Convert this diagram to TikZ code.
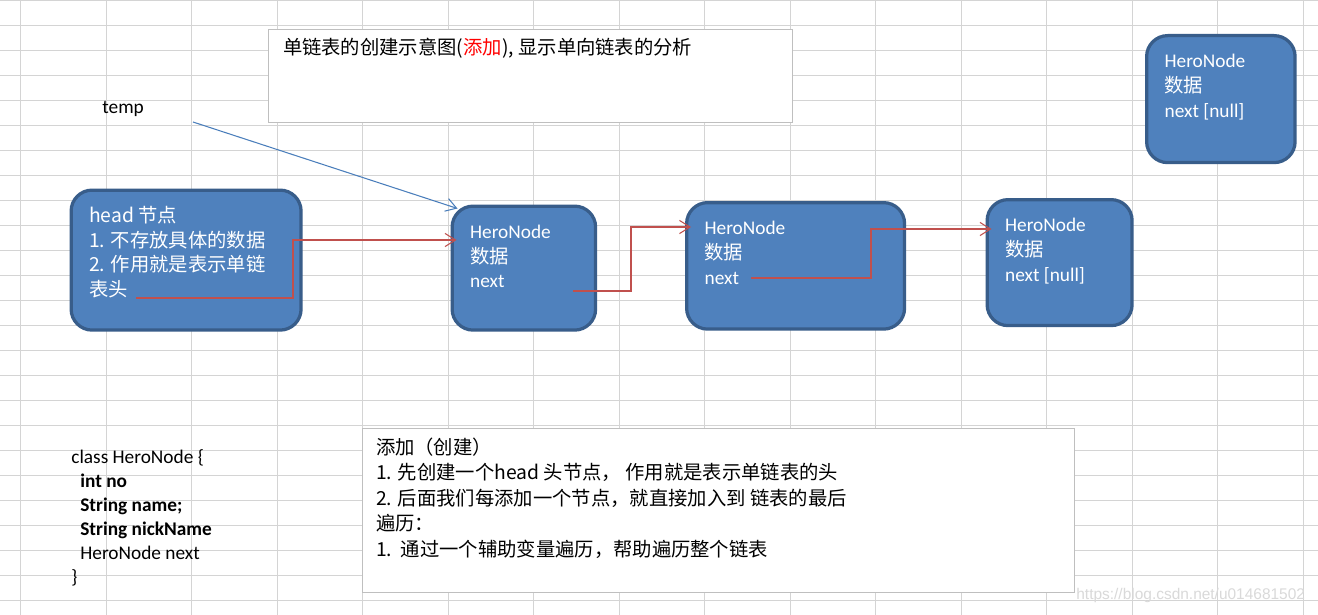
\documentclass[tikz,border=0pt]{standalone}
\usepackage{fontspec}
\usepackage{xcolor}
\usepackage{tikz}
\usetikzlibrary{arrows.meta}
\setmainfont{Noto Sans CJK SC}
\newfontfamily\calibri{Carlito}
\newfontfamily\wmfont{Liberation Sans}
\definecolor{herofill}{HTML}{4F81BD}
\definecolor{heroedge}{HTML}{385D8A}
\definecolor{linkred}{HTML}{C0504D}
\definecolor{tempblue}{HTML}{4A7EBB}
\definecolor{gridgray}{HTML}{D4D4D4}
\definecolor{boxgray}{HTML}{BFBFBF}

\begin{document}
\begin{tikzpicture}[x=0.02cm, y=-0.02cm,
  gridline/.style={draw=gridgray, line width=0.02cm},
  hero/.style={draw=heroedge, fill=herofill, line width=0.065cm, rounded corners=0.42cm,
               anchor=north west, inner xsep=0.36cm, inner ysep=0.29cm, text=white,
               font=\fontsize{11}{14.2}\selectfont},
  note/.style={draw=boxgray, fill=white, line width=0.02cm, anchor=north west,
               font=\fontsize{11}{14.5}\selectfont},
  code/.style={anchor=north west, inner sep=0, align=left, font=\calibri\fontsize{11}{13.7}\selectfont},
  link/.style={-{Straight Barb[length=6pt,width=7.5pt]}, draw=linkred, line width=0.6pt, shorten >=-0.12cm},
  ptr/.style={-{Straight Barb[length=6pt,width=7.5pt]}, draw=tempblue, line width=0.6pt}
]
\useasboundingbox (0,0) rectangle (1318,615);
\fill[white] (0,0) rectangle (1318,615);

% spreadsheet grid
\foreach \y in {0.5,25.5,...,600.5} \draw[gridline] (0,\y) -- (1318,\y);
\foreach \i in {0,...,15} \draw[gridline] ({20.5+85.5*\i},0) -- ++(0,615);

\node[note, inner xsep=0.29cm, inner ysep=0.15cm] (title) at (268,29)
  {\parbox[t][1.56cm][t]{9.9cm}{\strut 单链表的创建示意图(\textcolor{red}{添加}), 显示单向链表的分析}};
\node[code, anchor=base west] (temp) at (102,113) {temp};

% list nodes
\node[hero] (head) at (69.5,188.5)
  {\parbox[t][2.22cm][t]{3.88cm}{\strut head 节点\\1. 不存放具体的数据\\2. 作用就是表示单链\\表头}};
\node[hero] (n1) at (450.5,204.5)
  {\parbox[t][1.90cm][t]{2.15cm}{\strut{\calibri HeroNode}\\数据\\{\calibri next}}};
\node[hero] (n2) at (685,201)
  {\parbox[t][1.95cm][t]{3.64cm}{\strut{\calibri HeroNode}\\数据\\{\calibri next}}};
\node[hero] (n3) at (985.5,198)
  {\parbox[t][1.94cm][t]{2.18cm}{\strut{\calibri HeroNode}\\数据\\{\calibri next [null]}}};
\node[hero] (n5) at (1145,34)
  {\parbox[t][1.96cm][t]{2.25cm}{\strut{\calibri HeroNode}\\数据\\{\calibri next [null]}}};

% next pointers
\coordinate (tp) at (193,122);
\coordinate (h-next) at (136,298);  \coordinate (h-bend) at (293,240);
\coordinate (n1-next) at (573,291); \coordinate (n1-bend) at (631,227);
\coordinate (n2-next) at (751,278); \coordinate (n2-bend) at (871,229);
\draw[ptr] (tp) -- ([shift={(7,4)}]n1.north west);
\draw[link] (h-next) -| (h-bend) -- (h-bend -| n1.west);
\draw[link] (n1-next) -| (n1-bend) -- (n1-bend -| n2.west);
\draw[link] (n2-next) -| (n2-bend) -- (n2-bend -| n3.west);

\node[code] (cls) at (71,446)
  {\strut class HeroNode \{\\\hspace{0.18cm}\textbf{int no}\\\hspace{0.18cm}\textbf{String name;}\\
   \hspace{0.18cm}\textbf{String nickName}\\\hspace{0.18cm}HeroNode next\\\}};
\node[note, inner xsep=0.27cm, inner ysep=0.16cm] (steps) at (362,428)
  {\parbox[t][2.97cm][t]{13.71cm}{\strut 添加（创建）\\1. 先创建一个head 头节点， 作用就是表示单链表的头\\
   2. 后面我们每添加一个节点，就直接加入到 链表的最后\\遍历：\\1.\ \ 通过一个辅助变量遍历，帮助遍历整个链表}};
\node[anchor=base west, inner sep=0, text=gray!30, font=\wmfont\fontsize{8.8}{9}\selectfont] (wm) at (1076,599)
  {https://blog.csdn.net/u014681502};
\end{tikzpicture}
\end{document}
